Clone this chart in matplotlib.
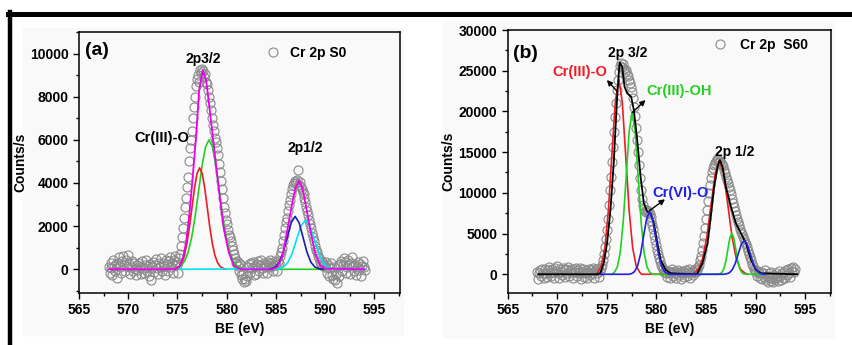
import numpy as np
import matplotlib
matplotlib.use('Agg')
import matplotlib.pyplot as plt
from matplotlib.lines import Line2D
from matplotlib.patches import Rectangle
from matplotlib.ticker import MultipleLocator

plt.rcParams['font.family'] = ['Liberation Sans', 'DejaVu Sans']
plt.rcParams['font.weight'] = 'bold'

# measured spectra, 0.1 eV steps from 568 to 594 eV
be = np.linspace(568.0, 594.0, 261)

counts_s0 = [
    120, -180, 300, 80, -250, 420, 150, -80, 260, -420,
    310, 560, 90, -150, 380, 620, 200, -60, 450, 150,
    650, 240, -200, 100, 380, -100, 280, 20, -280, 180,
    -50, 300, 120, -230, 400, 60, -150, 220, 450, -60,
    150, -300, 250, -480, 100, 320, -120, 200, 480, 50,
    -200, 280, 100, 520, -80, 300, 160, -250, 420, 250,
    -100, 380, 550, 120, 300, -180, 450, 220, 600, 350,
    200, -150, 500, 700, 1100, 1500, 1900, 2400, 2900, 3300,
    3800, 4300, 5000, 5600, 6000, 6400, 7000, 7500, 8000, 8500,
    8800, 9000, 8700, 9250, 9100, 9300, 9200, 8900, 9050, 8700,
    8600, 8300, 8000, 7700, 7400, 7000, 6700, 6400, 6100, 5900,
    5600, 5300, 4900, 4500, 4100, 3700, 3300, 2900, 2600, 2300,
    2100, 1800, 1600, 1500, 1300, 1100, 900, 700, 500, 300,
    400, 150, 300, -100, 250, -250, -450, -200, -600, -450,
    -550, -300, 100, 250, -150, 300, 50, 350, -250, 150,
    -200, 250, 380, -100, 200, 450, 80, -180, 300, 100,
    250, -150, 350, 100, 420, 300, 150, -100, 200, 400,
    200, -100, 400, 300, 600, 800, 1000, 1300, 1600, 1900,
    2200, 2400, 2700, 3000, 3200, 3500, 3700, 3900, 4000, 4100,
    4000, 4150, 4600, 3900, 4050, 3800, 3700, 3600, 3500, 3300,
    3100, 2900, 2700, 2500, 2300, 2100, 1900, 1700, 1500, 1300,
    1100, 900, 800, 600, 500, 350, 250, 400, 150, 250,
    100, 350, -150, 200, -300, 50, 300, -250, -450, 100,
    -500, -200, -650, 150, -300, 250, 400, -100, 200, 500,
    350, -150, 100, 450, 250, -200, 300, 550, 150, -100,
    200, -250, 100, 350, -50, 250, -300, 150, 400, 100,
    -50,
]

counts_s60 = [
    300, -600, 200, 500, -200, 700, 100, -400, 600, 200,
    -300, 500, 900, 100, -200, 600, 300, -500, 800, 400,
    1000, 200, -400, 700, 300, -100, 800, 500, -300, 600,
    200, 900, -200, 400, 700, 100, -500, 600, 300, 800,
    -200, 500, 100, 800, -600, 300, 600, -300, 200, 500,
    -400, 300, 700, -100, 500, 200, 800, -500, 400, 700,
    200, 600, -300, 400, 800, 1200, 1700, 2500, 3300, 4300,
    5400, 6800, 8500, 10300, 12000, 13800, 15600, 17500, 19300, 21000,
    22600, 23800, 24900, 25600, 25900, 25500, 25800, 25200, 24800, 25100,
    24600, 24300, 23900, 23500, 23000, 22400, 21600, 20600, 19400, 18000,
    16500, 15000, 13400, 11800, 10400, 9300, 8500, 8000, 7800, 7700,
    7900, 7600, 7700, 7400, 7000, 6600, 6100, 5500, 4800, 4200,
    3600, 3000, 2500, 2000, 1600, 1200, 900, 600, 300, 500,
    100, -300, 400, 200, -500, 300, 600, -200, 100, 400,
    -400, 200, 500, -100, 300, -600, 100, 400, -300, 200,
    500, -200, 300, 600, -400, 200, 400, -100, 300, 700,
    300, 500, 900, 1200, 1700, 2300, 3000, 3800, 4700, 5700,
    6800, 7900, 9000, 10000, 11000, 11800, 12500, 13000, 13400, 13700,
    13900, 14100, 14000, 13800, 13900, 13600, 13500, 13300, 12800, 12400,
    12000, 11600, 11200, 10700, 10300, 9800, 9300, 8800, 8300, 7800,
    7300, 6800, 6400, 6000, 5600, 5200, 4900, 4600, 4300, 4000,
    3700, 3300, 2900, 2500, 2100, 1700, 1300, 1000, 700, 500,
    300, -200, 400, 100, -400, 300, -600, 200, -300, 500,
    -700, -200, -900, 100, -500, -800, 300, -400, -1000, -100,
    -600, 200, -300, -800, 400, -200, -700, 100, -500, 300,
    -400, 500, -100, 700, 200, -300, 800, 400, 900, 300,
    600,
]

# fitted components, panel (a)
red_a_x = [574.91, 575.17, 575.43, 575.69, 575.95, 576.21, 576.47, 576.73, 576.99, 577.25,
           577.51, 577.77, 578.03, 578.29, 578.55, 578.81, 579.07, 579.33, 579.59, 579.9]
red_a_y = [52, 134, 309, 635, 1170, 1932, 2851, 3765, 4446, 4700,
           4446, 3765, 2851, 1932, 1170, 635, 309, 134, 52, 0]

green_a_x = [574.8, 575.05, 575.4, 575.75, 576.1, 576.45, 576.8, 577.15, 577.5, 577.85, 578.2,
             578.55, 578.9, 579.25, 579.6, 579.95, 580.3, 580.65, 581.0, 581.35, 581.8, 590.0]
green_a_y = [0, 67, 172, 394, 812, 1496, 2466, 3639, 4806, 5676, 6000,
             5676, 4806, 3639, 2466, 1496, 812, 394, 172, 67, 0, 0]

blue_a_x = [584.3, 584.55, 584.95, 585.35, 585.75, 586.15, 586.55, 586.95,
            587.35, 587.75, 588.15, 588.55, 588.95, 589.35, 589.8]
blue_a_y = [0, 27, 108, 332, 796, 1486, 2162, 2450, 2162, 1486, 796, 332, 108, 27, 0]

cyan_a_x = [575.2, 585.3, 585.75, 586.2, 586.65, 587.1, 587.55, 588.0,
            588.45, 588.9, 589.35, 589.8, 590.25, 590.7, 591.2, 594.1]
cyan_a_y = [0, 25, 100, 308, 740, 1383, 2012, 2280, 2012, 1383, 740, 308, 100, 25, 0, 0]

env_a_x = [568.0, 574.7, 575.2, 575.6, 575.9, 576.2, 576.55, 576.9, 577.2, 577.55, 577.9,
           578.25, 578.7, 579.2, 579.7, 580.2, 580.7, 581.2, 581.6,
           584.6, 585.1, 585.65, 586.15, 586.65, 587.0, 587.35, 587.7, 588.0,
           588.5, 589.0, 589.5, 590.0, 594.0]
env_a_y = [0, 0, 120, 600, 1300, 2500, 4300, 6200, 8300, 9220, 8800,
           7500, 5700, 3700, 1900, 800, 200, 30, 0,
           0, 100, 570, 1800, 3050, 3800, 4100, 3750, 3050,
           1800, 720, 180, 30, 0]

# fitted components, panel (b)
red_b_x = [574.0, 574.1, 574.45, 574.8, 575.15, 575.5, 575.85, 576.2, 576.55, 576.9,
           577.25, 577.6, 577.95, 578.3, 578.5, 583.6, 583.8, 584.225, 584.65, 585.075,
           585.5, 585.925, 586.35, 586.775, 587.2, 587.625, 588.05, 588.475, 588.9, 589.2]
red_b_y = [0, 266, 1054, 3247, 7793, 14556, 21180, 24000, 21180, 14556,
           7793, 3247, 1054, 266, 0, 0, 155, 615, 1894, 4546,
           8491, 12355, 14000, 12355, 8491, 4546, 1894, 615, 155, 0]

green_b_x = [575.5, 575.75, 576.05, 576.35, 576.65, 576.95, 577.25, 577.55, 577.85, 578.15,
             578.45, 578.75, 579.05, 579.35, 579.6, 586.2, 586.4, 586.6, 586.8, 587.0,
             587.2, 587.4, 587.6, 587.8, 588.0, 588.2, 588.4, 588.6, 588.8, 589.0, 590.6]
green_b_y = [0, 221, 874, 2692, 6462, 12069, 17562, 19900, 17562, 12069,
             6462, 2692, 874, 221, 0, 0, 56, 222, 683, 1639,
             3063, 4457, 5050, 4457, 3063, 1639, 683, 222, 56, 0, 0]

blue_b_x = [574.3, 577.2, 577.5, 577.8, 578.1, 578.4, 578.7, 579.0, 579.3, 579.6,
            579.9, 580.2, 580.5, 580.8, 581.1, 581.4, 586.75, 587.05, 587.35, 587.65,
            587.95, 588.25, 588.55, 588.85, 589.15, 589.45, 589.75, 590.05, 590.35, 590.65, 590.95]
blue_b_y = [0, 0, 85, 338, 1041, 2500, 4670, 6795, 7700, 6795,
            4670, 2500, 1041, 338, 85, 0, 0, 46, 183, 563,
            1347, 2517, 3662, 4150, 3662, 2517, 1347, 563, 183, 46, 0]

env_b_x = [568.1, 574.0, 574.34, 574.68, 575.02, 575.36, 575.69, 575.86, 576.04, 576.2, 576.3,
           576.54, 576.78, 577.05, 577.45, 577.72, 578.06, 578.4, 578.73, 579.07, 579.4,
           579.74, 580.09, 580.42, 580.93, 581.43, 584.0, 584.13, 584.64, 585.15, 585.48,
           585.82, 586.16, 586.39, 586.67, 587.0, 587.51, 588.01, 588.52, 589.03, 589.53,
           590.04, 590.54, 594.2]
env_b_y = [0, 0, 123, 1350, 3800, 7900, 13630, 17700, 21800, 24680, 26000,
           25500, 23040, 22230, 21800, 20180, 16500, 11990, 8720, 7690, 7490,
           6260, 3800, 1760, 530, 120, 0, 123, 1350, 3800, 7070,
           10750, 13200, 14020, 13200, 10750, 8300, 6260, 5030, 3800, 1760,
           530, 120, 0]

RED = '#ee1c24'
GREEN = '#22d022'
MAGENTA = '#ee00ee'
NAVY = '#1c1ca8'
CYAN = '#00e4f0'
BLUE = '#2020e0'
GREY = '#8a8a8a'


def style_axes(ax, ymax_tick, ymajor, yminor):
    ax.set_xlim(565, 597.6)
    ax.set_xticks(range(565, 596, 5))
    ax.xaxis.set_minor_locator(MultipleLocator(2.5))
    ax.set_yticks(range(0, ymax_tick + 1, ymajor))
    ax.yaxis.set_minor_locator(MultipleLocator(yminor))
    ax.tick_params(which='both', direction='out', top=False, right=False,
                   labelsize=10, width=1)
    ax.tick_params(which='major', length=4)
    ax.tick_params(which='minor', length=2.5)
    for lab in ax.get_xticklabels() + ax.get_yticklabels():
        lab.set_fontweight('bold')
    for sp in ax.spines.values():
        sp.set_linewidth(1.1)
    ax.set_xlabel('BE (eV)', fontsize=10, fontweight='bold', labelpad=3)
    ax.set_ylabel('Counts/s', fontsize=10, fontweight='bold', labelpad=2)
    ax.set_facecolor('none')


fig = plt.figure(figsize=(8.53, 3.45), dpi=100)

# faint panel backgrounds and the black frame of the original figure
fig.add_artist(Rectangle((23 / 853, 1 - 335 / 345), 380 / 853, 307 / 345,
                         transform=fig.transFigure, color='#f9f9f9', zorder=0))
fig.add_artist(Rectangle((443 / 853, 1 - 337 / 345), 390 / 853, 315 / 345,
                         transform=fig.transFigure, color='#f9f9f9', zorder=0))
fig.add_artist(Line2D([8 / 853, 1], [1 - 14.2 / 345] * 2, color='black', lw=3.6))
fig.add_artist(Line2D([10.5 / 853] * 2, [0, 1 - 12 / 345], color='black', lw=3.2))

ax_a = fig.add_axes([79 / 853, 1 - 293 / 345, 321 / 853, 261 / 345])
ax_b = fig.add_axes([507.7 / 853, 1 - 293 / 345, 323.3 / 853, 263 / 345])

# ---- panel (a) ----
ax_a.plot(be, counts_s0, 'o', mfc='none', mec=GREY, ms=6.5, mew=0.8,
          label='Cr 2p S0', zorder=1)
ax_a.plot(green_a_x, green_a_y, color=GREEN, lw=1.2, zorder=2)
ax_a.plot(red_a_x, red_a_y, color=RED, lw=1.2, zorder=3)
ax_a.plot(cyan_a_x, cyan_a_y, color=CYAN, lw=1.2, zorder=4)
ax_a.plot(blue_a_x, blue_a_y, color=NAVY, lw=1.2, zorder=5)
ax_a.plot(env_a_x, env_a_y, color=MAGENTA, lw=1.3, zorder=6)
ax_a.set_ylim(-1100, 11000)
style_axes(ax_a, 10000, 2000, 1000)

ax_a.text(0.019, 0.928, '(a)', transform=ax_a.transAxes, fontsize=14,
          fontweight='bold', va='center', ha='left')
ax_a.text(577.64, 9770, '2p3/2', fontsize=10, fontweight='bold', ha='center', va='center')
ax_a.text(573.44, 6100, 'Cr(III)-O', fontsize=10.5, fontweight='bold', ha='center', va='center')
ax_a.text(588.0, 5600, '2p1/2', fontsize=10, fontweight='bold', ha='center', va='center')
ax_a.legend(loc='center left', bbox_to_anchor=(0.582, 0.92), frameon=False,
            borderpad=0, borderaxespad=0, handlelength=1.0, handletextpad=0.75,
            prop={'weight': 'bold', 'size': 10})

# ---- panel (b) ----
ax_b.plot(be, counts_s60, 'o', mfc='none', mec=GREY, ms=6.5, mew=0.8,
          label='Cr 2p  S60', zorder=1)
ax_b.plot(red_b_x, red_b_y, color=RED, lw=1.2, zorder=2)
ax_b.plot(green_b_x, green_b_y, color=GREEN, lw=1.2, zorder=3)
ax_b.plot(env_b_x, env_b_y, color='black', lw=1.3, zorder=4)
ax_b.plot(blue_b_x, blue_b_y, color=BLUE, lw=1.2, zorder=5)
ax_b.set_ylim(-2300, 30000)
style_axes(ax_b, 30000, 5000, 2500)

ax_b.text(0.017, 0.911, '(b)', transform=ax_b.transAxes, fontsize=14,
          fontweight='bold', va='center', ha='left')
ax_b.text(577.12, 27140, '2p 3/2', fontsize=10, fontweight='bold', ha='center', va='center')
ax_b.text(587.9, 14960, '2p 1/2', fontsize=10, fontweight='bold', ha='center', va='center')
ax_b.text(572.3, 24900, 'Cr(III)-O', color=RED, fontsize=10.5, fontweight='bold',
          ha='center', va='center')
ax_b.text(582.3, 22530, 'Cr(III)-OH', color=GREEN, fontsize=10.5, fontweight='bold',
          ha='center', va='center')
ax_b.text(582.4, 9950, 'Cr(VI)-O', color=BLUE, fontsize=10.5, fontweight='bold',
          ha='center', va='center')

arrow = dict(arrowstyle='-|>', color='black', lw=1.0, mutation_scale=8,
             shrinkA=0, shrinkB=0)
ax_b.annotate('', xy=(575.0, 23860), xytext=(576.07, 22420), arrowprops=arrow, zorder=7)
ax_b.annotate('', xy=(578.9, 21400), xytext=(577.55, 19850), arrowprops=arrow, zorder=7)
ax_b.annotate('', xy=(580.86, 9210), xytext=(579.31, 7820), arrowprops=arrow, zorder=7)

ax_b.legend(loc='center left', bbox_to_anchor=(0.635, 0.943), frameon=False,
            borderpad=0, borderaxespad=0, handlelength=1.0, handletextpad=0.95,
            prop={'weight': 'bold', 'size': 10})

fig.savefig('out.png', dpi=100)
